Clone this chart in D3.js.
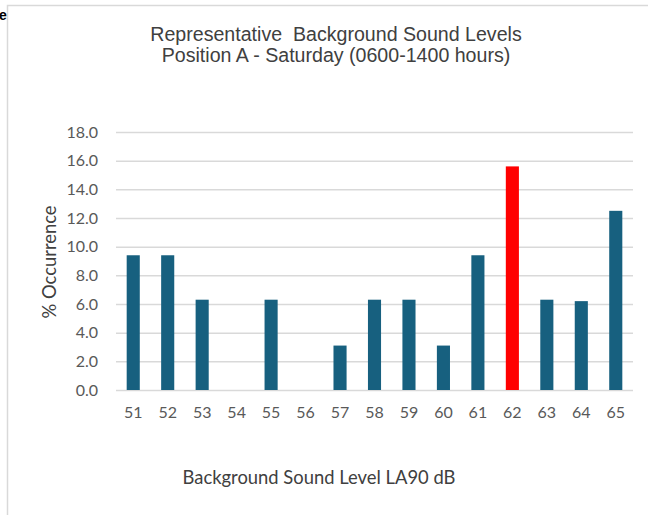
<!DOCTYPE html>
<html><head><meta charset="utf-8">
<script src="https://cdn.jsdelivr.net/npm/d3@7"></script>
<style>body{margin:0;background:#fff;} svg{display:block;}</style>
</head><body>
<svg id="c" width="648" height="515"></svg>
<script>
const categories = ["51","52","53","54","55","56","57","58","59","60","61","62","63","64","65"];
const values = [9.4, 9.4, 6.3, 0, 6.3, 0, 3.1, 6.3, 6.3, 3.1, 9.4, 15.6, 6.3, 6.2, 12.5];
const highlight = ["62"];
const yTicks = [0,2,4,6,8,10,12,14,16,18];
const titleLines = ["Representative  Background Sound Levels", "Position A - Saturday (0600-1400 hours)"];
const xTitle = "Background Sound Level LA90 dB";
const yTitle = "% Occurrence";

const svg = d3.select("#c");
const m = {left:116, right:633, top:132, bottom:390};
const x = d3.scaleBand().domain(categories).range([m.left, m.right]).paddingInner(0.62).paddingOuter(0.31);
const y = d3.scaleLinear().domain([0,18]).range([m.bottom, m.top]);

// border
svg.append("path").attr("d","M7.5,515 V5.5 H648").attr("fill","none").attr("stroke","#d9d9d9").attr("stroke-width",1.5);
svg.append("text").attr("x",-1).attr("y",20).text("e")
  .attr("font-family","Liberation Sans, Arial, sans-serif").attr("font-weight","bold").attr("font-size",14).attr("fill","#000");

// gridlines
const yAxis = d3.axisLeft(y).tickValues(yTicks).tickFormat(d3.format(".1f")).tickSize(-(m.right-m.left)).tickPadding(18);
const ga = svg.append("g").attr("transform",`translate(${m.left},0)`).call(yAxis);
ga.select(".domain").remove();
ga.selectAll(".tick line").attr("stroke","#d9d9d9").attr("stroke-width",1.5);
ga.selectAll(".tick text").attr("font-family","Lato, sans-serif").attr("font-size",16).attr("fill","#595959");

// bars
svg.append("g").selectAll("rect").data(categories).join("rect")
  .attr("x", d=>x(d)).attr("width", x.bandwidth())
  .attr("y", (d,i)=>y(values[i])).attr("height",(d,i)=>y(0)-y(values[i]))
  .attr("fill", d=> highlight.includes(d) ? "#ff0000" : "#17607f");

// x axis
const xAxis = d3.axisBottom(x).tickSize(0).tickPadding(17);
const gx = svg.append("g").attr("transform",`translate(0,${m.bottom})`).call(xAxis);
gx.select(".domain").remove();
gx.selectAll(".tick text").attr("font-family","Lato, sans-serif").attr("font-size",16).attr("fill","#595959");

// titles
svg.append("g").selectAll("text").data(titleLines).join("text")
  .attr("x",336).attr("y",(d,i)=>41+i*21).attr("text-anchor","middle")
  .attr("font-family","Liberation Sans, Arial, sans-serif").attr("font-size",19.6).attr("fill","#404040")
  .style("white-space","pre").text(d=>d);

svg.append("text").attr("x",319).attr("y",484).attr("text-anchor","middle")
  .attr("font-family","Lato, sans-serif").attr("font-size",18.4).attr("fill","#404040").text(xTitle);

svg.append("text").attr("transform","translate(56,262) rotate(-90)").attr("text-anchor","middle")
  .attr("font-family","Lato, sans-serif").attr("font-size",18.4).attr("fill","#404040").text(yTitle);
</script>
</body></html>
